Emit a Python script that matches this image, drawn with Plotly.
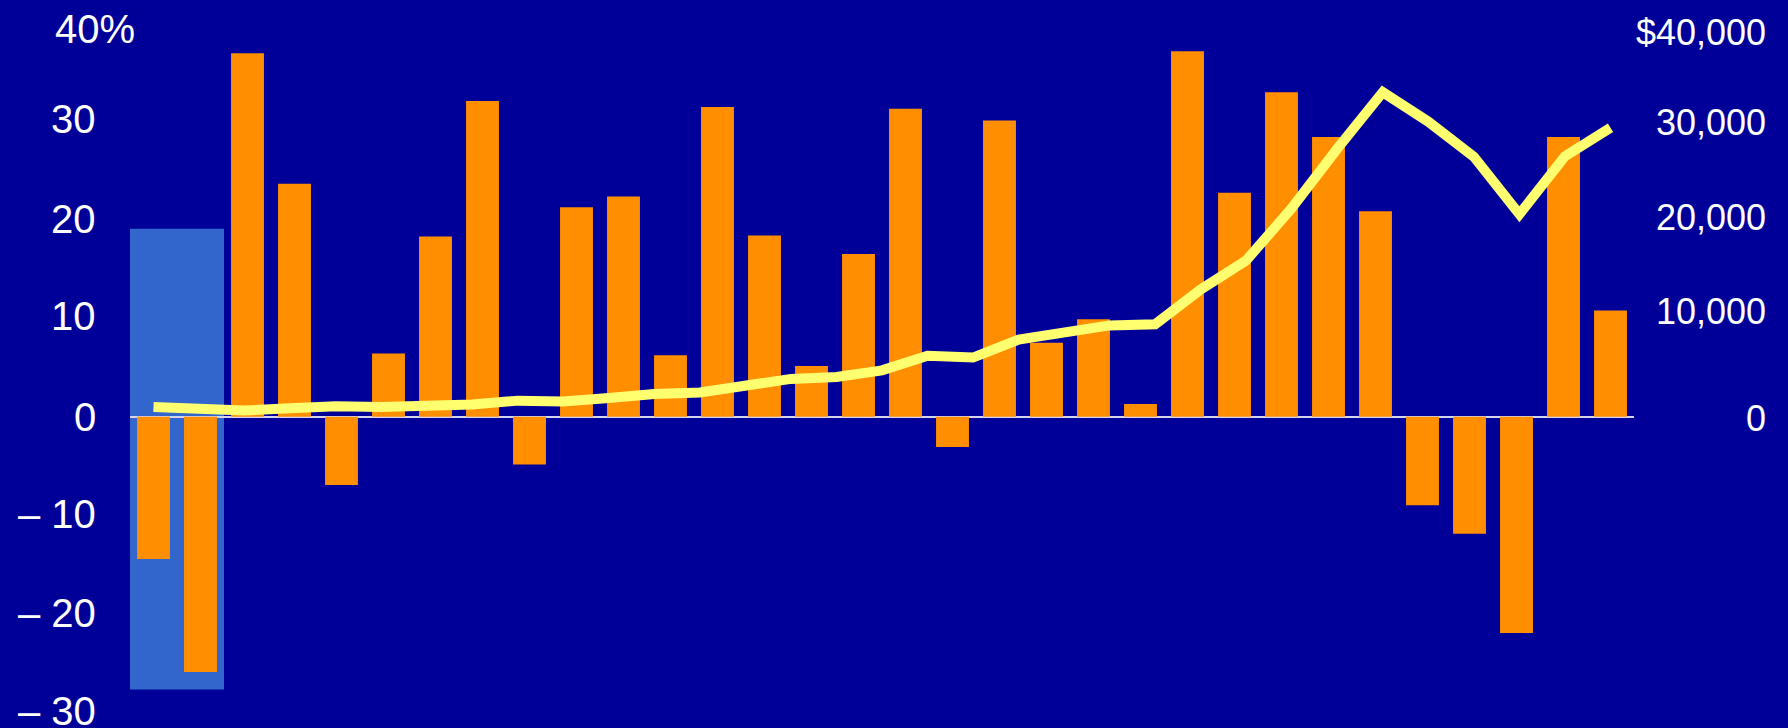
import numpy as np
import plotly.graph_objects as go

# Annual total return (%) by year
years = list(range(1973, 2005))
annual_return = [
    -14.6, -26.2, 37.3, 23.9, -7.0, 6.5, 18.5, 32.4, -4.9, 21.5,
    22.6, 6.3, 31.8, 18.6, 5.2, 16.7, 31.6, -3.1, 30.4, 7.6,
    10.0, 1.3, 37.5, 23.0, 33.3, 28.7, 21.1, -9.1, -12.0, -22.2,
    28.7, 10.9,
]

# Growth of $1,000 (start value plus one point per year end)
growth = [
    1000, 850, 640, 860, 1070, 990, 1050, 1250, 1650, 1570,
    1910, 2340, 2490, 3270, 3880, 4080, 4760, 6260, 6070, 7910,
    8520, 9370, 9490, 13060, 16050, 21410, 27520, 33310, 30280, 26680,
    20780, 26740, 29650,
]

# Shaded bear-market span
highlight_years = (1973, 1974)
highlight_band = (-28.0, 19.3)

# Axis labels
left_ticks = [40, 30, 20, 10, 0, -10, -20, -30]
left_text = ["40%", "30", "20", "10", "0", "\u2013 10", "\u2013 20", "\u2013 30"]
right_ticks = [40000, 30000, 20000, 10000, 0]
right_text = ["$40,000", "30,000", "20,000", "10,000", "0"]

# Small vertical nudges (px) for the hand-set labels
left_nudge = [-2, 5, 3, 3, 0, 0, -1, -2]
right_nudge = [-5, 2, 4, 8, -2]

BG = "#000099"
ORANGE = "#FF8F00"
YELLOW = "#FFFF70"
HILITE = "#3366CC"
FONT = "Liberation Sans, Arial, sans-serif"

growth_x = np.linspace(years[0], years[-1], len(growth))

fig = go.Figure()
fig.add_trace(go.Bar(
    x=years, y=annual_return, width=0.7,
    marker=dict(color=ORANGE, line=dict(width=0)),
    yaxis="y", hoverinfo="x+y",
))
fig.add_trace(go.Scatter(
    x=growth_x, y=growth, mode="lines",
    line=dict(color=YELLOW, width=10),
    yaxis="y2", hoverinfo="y",
))

fig.add_shape(
    type="rect", xref="x", yref="y", layer="below",
    x0=highlight_years[0] - 0.5, x1=highlight_years[1] + 0.5,
    y0=highlight_band[0], y1=highlight_band[1],
    fillcolor=HILITE, line=dict(width=0),
)

annotations = []
for v, t, dy in zip(left_ticks, left_text, left_nudge):
    pct = t.endswith("%")
    annotations.append(dict(
        x=-0.0512 if pct else -0.0215, xref="paper", y=v, yref="y", text=t,
        xanchor="left" if pct else "right", yanchor="middle",
        showarrow=False, yshift=dy,
        font=dict(family=FONT, size=40, color="white"),
    ))
for v, t, dy in zip(right_ticks, right_text, right_nudge):
    annotations.append(dict(
        x=1.0891, xref="paper", y=v, yref="y2", text=t,
        xanchor="right", yanchor="middle", showarrow=False, yshift=dy,
        font=dict(family=FONT, size=36, color="white"),
    ))

fig.update_layout(
    width=1788, height=728,
    margin=dict(l=130, r=154, t=27, b=19, pad=0),
    paper_bgcolor=BG, plot_bgcolor=BG,
    showlegend=False,
    bargap=0.3,
    xaxis=dict(
        range=[years[0] - 0.5, years[-1] + 0.5],
        showgrid=False, zeroline=False, showticklabels=False,
        ticks="", showline=False, fixedrange=True,
    ),
    yaxis=dict(
        range=[-30, 40], tickvals=left_ticks, showticklabels=False,
        showgrid=False, ticks="", showline=False,
        zeroline=True, zerolinecolor="#D4D4EC", zerolinewidth=2,
        layer="above traces", fixedrange=True,
    ),
    yaxis2=dict(
        range=[-30000, 40000], overlaying="y", side="right",
        showticklabels=False, showgrid=False, zeroline=False,
        ticks="", showline=False, fixedrange=True,
    ),
    annotations=annotations,
)

fig.write_html("out.html")
